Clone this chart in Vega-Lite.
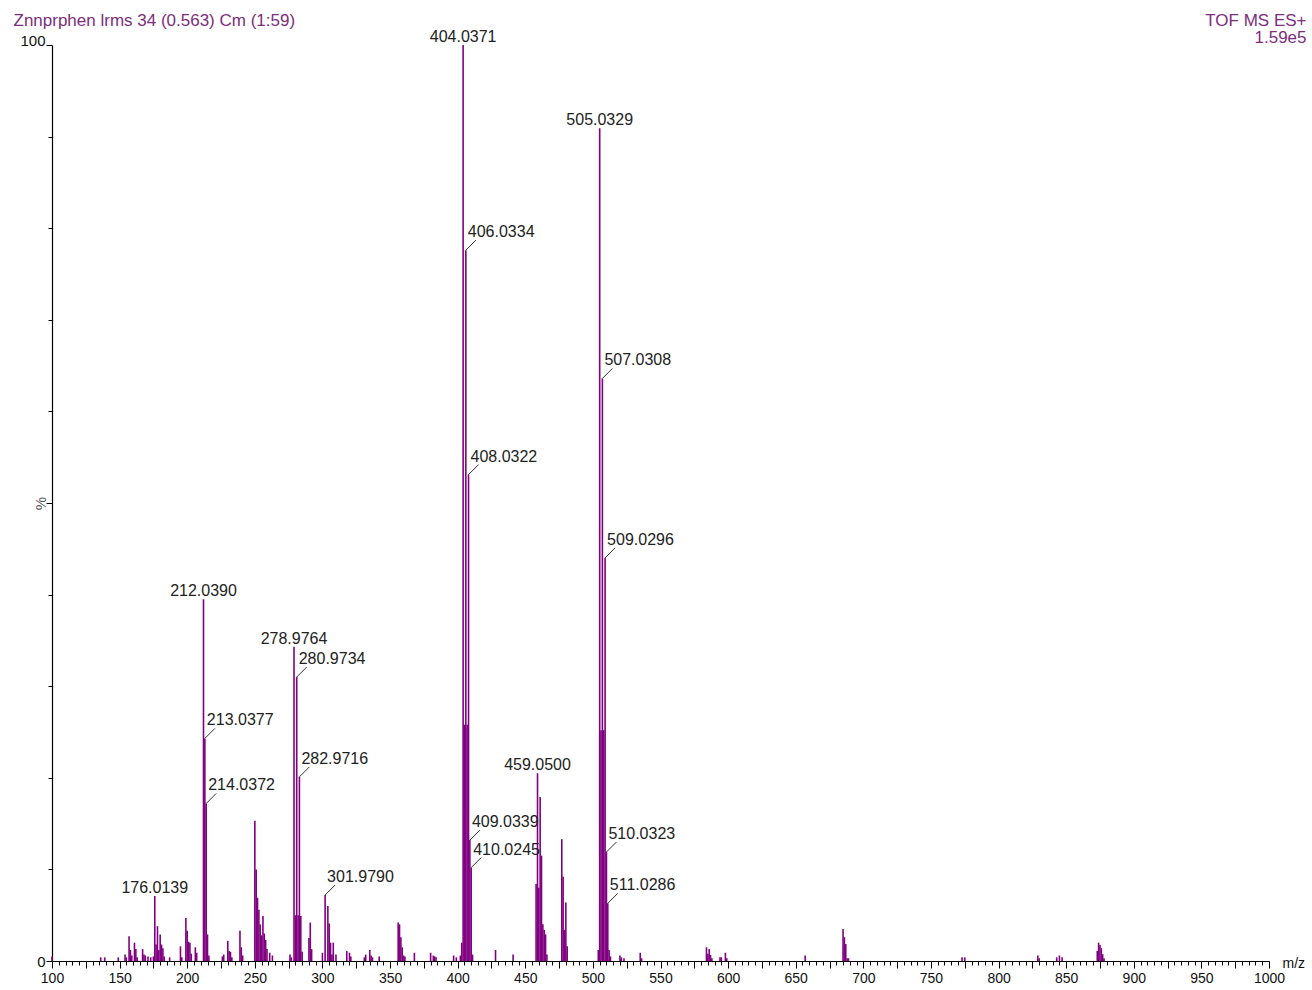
{
  "$schema": "https://vega.github.io/schema/vega-lite/v6.json",
  "width": 1217,
  "height": 916,
  "autosize": {"type": "none"},
  "padding": {"left": 52, "top": 45, "right": 43, "bottom": 29},
  "background": "white",
  "config": {"view": {"stroke": null}, "font": "Liberation Sans"},
  "datasets": {
    "peaks": [
      {"mz": 100, "pct": 0.5}, {"mz": 136, "pct": 0.4}, {"mz": 139, "pct": 0.4}, {"mz": 149, "pct": 0.4},
      {"mz": 154, "pct": 0.7}, {"mz": 155, "pct": 0.4}, {"mz": 157, "pct": 2.7}, {"mz": 158, "pct": 1.2},
      {"mz": 159, "pct": 0.6}, {"mz": 161, "pct": 2.0}, {"mz": 162, "pct": 1.3}, {"mz": 163, "pct": 0.4},
      {"mz": 167, "pct": 1.3}, {"mz": 168, "pct": 0.7}, {"mz": 169, "pct": 0.6}, {"mz": 171, "pct": 0.5},
      {"mz": 173, "pct": 0.4}, {"mz": 175, "pct": 0.5},
      {"mz": 176.0139, "pct": 7.1, "label": "176.0139", "kind": "apex"},
      {"mz": 177, "pct": 1.8}, {"mz": 178, "pct": 3.8}, {"mz": 179, "pct": 1.2}, {"mz": 180, "pct": 2.9},
      {"mz": 181, "pct": 1.8}, {"mz": 182, "pct": 1.4}, {"mz": 183, "pct": 0.5}, {"mz": 187, "pct": 0.4},
      {"mz": 195, "pct": 1.6}, {"mz": 196, "pct": 0.4}, {"mz": 199, "pct": 4.7}, {"mz": 200, "pct": 3.3},
      {"mz": 201, "pct": 2.1}, {"mz": 202, "pct": 2.0}, {"mz": 203, "pct": 0.8}, {"mz": 206, "pct": 1.5},
      {"mz": 207, "pct": 0.9},
      {"mz": 212.039, "pct": 39.5, "label": "212.0390", "kind": "apex"},
      {"mz": 213.0377, "pct": 24.3, "label": "213.0377", "kind": "side"},
      {"mz": 214.0372, "pct": 17.2, "label": "214.0372", "kind": "side"},
      {"mz": 215, "pct": 2.9}, {"mz": 216, "pct": 0.6}, {"mz": 226, "pct": 0.5}, {"mz": 227, "pct": 0.7},
      {"mz": 230, "pct": 2.2}, {"mz": 231, "pct": 1.1}, {"mz": 232, "pct": 1.0}, {"mz": 233, "pct": 0.4},
      {"mz": 239, "pct": 3.3}, {"mz": 240, "pct": 1.5}, {"mz": 241, "pct": 0.6},
      {"mz": 250, "pct": 15.3}, {"mz": 251, "pct": 10.0}, {"mz": 252, "pct": 6.9}, {"mz": 253, "pct": 5.6},
      {"mz": 254, "pct": 4.0}, {"mz": 255, "pct": 2.8}, {"mz": 256, "pct": 4.9}, {"mz": 257, "pct": 3.0},
      {"mz": 258, "pct": 2.3}, {"mz": 259, "pct": 1.3}, {"mz": 261, "pct": 0.9}, {"mz": 263, "pct": 0.6},
      {"mz": 276, "pct": 0.7}, {"mz": 277, "pct": 0.4},
      {"mz": 278.9764, "pct": 34.3, "label": "278.9764", "kind": "apex"},
      {"mz": 280, "pct": 5.0},
      {"mz": 280.9734, "pct": 31.0, "label": "280.9734", "kind": "side"},
      {"mz": 282, "pct": 5.0},
      {"mz": 282.9716, "pct": 20.1, "label": "282.9716", "kind": "side"},
      {"mz": 284, "pct": 4.9}, {"mz": 285, "pct": 1.0}, {"mz": 290, "pct": 2.5}, {"mz": 291, "pct": 4.2},
      {"mz": 292, "pct": 1.3}, {"mz": 300, "pct": 0.9},
      {"mz": 301.979, "pct": 7.2, "label": "301.9790", "kind": "side"},
      {"mz": 304, "pct": 6.0}, {"mz": 305, "pct": 4.1}, {"mz": 306, "pct": 2.0}, {"mz": 307, "pct": 0.7},
      {"mz": 308, "pct": 2.0}, {"mz": 310, "pct": 0.7}, {"mz": 318, "pct": 1.1}, {"mz": 320, "pct": 0.9},
      {"mz": 321, "pct": 0.5}, {"mz": 331, "pct": 0.4}, {"mz": 332, "pct": 0.7}, {"mz": 335, "pct": 1.2},
      {"mz": 336, "pct": 0.6}, {"mz": 337, "pct": 0.4}, {"mz": 342, "pct": 0.5},
      {"mz": 356, "pct": 4.2}, {"mz": 357, "pct": 4.0}, {"mz": 358, "pct": 2.6}, {"mz": 359, "pct": 1.5},
      {"mz": 360, "pct": 0.6}, {"mz": 361, "pct": 0.5}, {"mz": 368, "pct": 0.9}, {"mz": 380, "pct": 0.9},
      {"mz": 382, "pct": 0.6}, {"mz": 383, "pct": 0.5}, {"mz": 384, "pct": 0.4}, {"mz": 397, "pct": 0.6},
      {"mz": 399, "pct": 0.4}, {"mz": 402, "pct": 0.6}, {"mz": 403, "pct": 2.0},
      {"mz": 404.0371, "pct": 100, "label": "404.0371", "kind": "apex"},
      {"mz": 405, "pct": 25.8},
      {"mz": 406.0334, "pct": 77.6, "label": "406.0334", "kind": "side"},
      {"mz": 407, "pct": 25.8},
      {"mz": 408.0322, "pct": 53.1, "label": "408.0322", "kind": "side"},
      {"mz": 409.0339, "pct": 13.2, "label": "409.0339", "kind": "side"},
      {"mz": 410.0245, "pct": 10.2, "label": "410.0245", "kind": "side"},
      {"mz": 411, "pct": 0.7}, {"mz": 428, "pct": 1.2}, {"mz": 441, "pct": 0.7}, {"mz": 458, "pct": 8.4},
      {"mz": 459.05, "pct": 20.5, "label": "459.0500", "kind": "apex"},
      {"mz": 460, "pct": 8.0}, {"mz": 461, "pct": 17.9}, {"mz": 462, "pct": 11.5}, {"mz": 463, "pct": 4.0},
      {"mz": 464, "pct": 3.4}, {"mz": 465, "pct": 2.9}, {"mz": 466, "pct": 0.7},
      {"mz": 477, "pct": 13.3}, {"mz": 478, "pct": 9.2}, {"mz": 479, "pct": 3.4}, {"mz": 480, "pct": 6.4},
      {"mz": 481, "pct": 1.6}, {"mz": 504, "pct": 1.2},
      {"mz": 505.0329, "pct": 90.9, "label": "505.0329", "kind": "apex"},
      {"mz": 506, "pct": 25.2},
      {"mz": 507.0308, "pct": 63.6, "label": "507.0308", "kind": "side"},
      {"mz": 508, "pct": 25.2},
      {"mz": 509.0296, "pct": 44.0, "label": "509.0296", "kind": "side"},
      {"mz": 510.0323, "pct": 11.9, "label": "510.0323", "kind": "side"},
      {"mz": 511.0286, "pct": 6.3, "label": "511.0286", "kind": "side"},
      {"mz": 512, "pct": 1.2}, {"mz": 513, "pct": 0.5}, {"mz": 520, "pct": 0.6}, {"mz": 521, "pct": 0.4},
      {"mz": 523, "pct": 0.3}, {"mz": 535, "pct": 0.9}, {"mz": 536, "pct": 0.3},
      {"mz": 584, "pct": 1.5}, {"mz": 585, "pct": 0.8}, {"mz": 586, "pct": 1.3}, {"mz": 587, "pct": 0.65},
      {"mz": 588, "pct": 0.3}, {"mz": 594, "pct": 0.4}, {"mz": 595, "pct": 0.4}, {"mz": 598, "pct": 0.9},
      {"mz": 599, "pct": 0.3}, {"mz": 657, "pct": 0.6},
      {"mz": 685, "pct": 3.5}, {"mz": 686, "pct": 2.6}, {"mz": 687, "pct": 1.85}, {"mz": 688, "pct": 0.3},
      {"mz": 689, "pct": 0.3}, {"mz": 773, "pct": 0.4}, {"mz": 775, "pct": 0.4}, {"mz": 829, "pct": 0.6},
      {"mz": 830, "pct": 0.3}, {"mz": 843, "pct": 0.4}, {"mz": 845, "pct": 0.6}, {"mz": 847, "pct": 0.4},
      {"mz": 873, "pct": 1.1}, {"mz": 874, "pct": 2.0}, {"mz": 875, "pct": 1.75}, {"mz": 876, "pct": 1.4},
      {"mz": 877, "pct": 0.75}, {"mz": 878, "pct": 0.3}
    ]
  },
  "resolve": {"axis": {"x": "independent", "y": "independent"}},
  "layer": [
    {
      "data": {"name": "peaks"},
      "mark": {"type": "rule", "color": "#800080", "strokeWidth": 1.6},
      "encoding": {
        "x": {
          "field": "mz", "type": "quantitative",
          "scale": {"domain": [100, 1000], "nice": false, "zero": false},
          "axis": {
            "orient": "bottom",
            "values": [100,105,110,115,120,125,130,135,140,145,150,155,160,165,170,175,180,185,190,195,
                       200,205,210,215,220,225,230,235,240,245,250,255,260,265,270,275,280,285,290,295,
                       300,305,310,315,320,325,330,335,340,345,350,355,360,365,370,375,380,385,390,395,
                       400,405,410,415,420,425,430,435,440,445,450,455,460,465,470,475,480,485,490,495,
                       500,505,510,515,520,525,530,535,540,545,550,555,560,565,570,575,580,585,590,595,
                       600,605,610,615,620,625,630,635,640,645,650,655,660,665,670,675,680,685,690,695,
                       700,705,710,715,720,725,730,735,740,745,750,755,760,765,770,775,780,785,790,795,
                       800,805,810,815,820,825,830,835,840,845,850,855,860,865,870,875,880,885,890,895,
                       900,905,910,915,920,925,930,935,940,945,950,955,960,965,970,975,980,985,990,995,1000],
            "format": "d",
            "labelExpr": "datum.value % 50 === 0 ? datum.label : ''",
            "labelOverlap": false,
            "labelFlush": false,
            "labelFontSize": 14,
            "labelColor": "#111111",
            "labelPadding": 3,
            "tickSize": {"condition": {"test": "datum.value % 25 === 0", "value": 7}, "value": 4},
            "tickColor": "#000000",
            "tickWidth": 1,
            "domainColor": "#000000",
            "domainWidth": 1.2,
            "grid": false,
            "title": "m/z",
            "titleX": 1230,
            "titleY": 2,
            "titleAlign": "left",
            "titleBaseline": "middle",
            "titleAngle": 0,
            "titleFontSize": 14,
            "titleFontWeight": "normal",
            "titleColor": "#111111"
          }
        },
        "y": {
          "field": "pct", "type": "quantitative",
          "scale": {"domain": [0, 100], "nice": false},
          "axis": {
            "orient": "left",
            "values": [0,10,20,30,40,50,60,70,80,90,100],
            "labelExpr": "datum.value === 0 || datum.value === 100 ? datum.label : ''",
            "labelOverlap": false,
            "labelFlush": false,
            "labelFontSize": 15,
            "labelColor": "#111111",
            "labelPadding": 1,
            "labelBaseline": {"condition": {"test": "datum.value === 100", "value": "alphabetic"}, "value": "middle"},
            "tickSize": {"condition": {"test": "datum.value % 50 === 0", "value": 6}, "value": 4},
            "tickColor": "#000000",
            "domainColor": "#000000",
            "domainWidth": 1.2,
            "grid": false,
            "title": "%",
            "titleAngle": -90,
            "titleX": -12,
            "titleY": 458,
            "titleAlign": "center",
            "titleBaseline": "middle",
            "titleFontSize": 15,
            "titleFontWeight": "normal",
            "titleColor": "#555555"
          }
        },
        "y2": {"datum": 0}
      }
    },
    {
      "data": {"name": "peaks"},
      "transform": [{"filter": "datum.kind === 'side'"}],
      "mark": {"type": "rule", "color": "#333333", "strokeWidth": 1, "x2Offset": 10, "y2Offset": -10},
      "encoding": {
        "x": {"field": "mz", "type": "quantitative", "axis": null},
        "x2": {"field": "mz"},
        "y": {"field": "pct", "type": "quantitative", "axis": null},
        "y2": {"field": "pct"}
      }
    },
    {
      "data": {"name": "peaks"},
      "transform": [{"filter": "datum.kind === 'side'"}],
      "mark": {"type": "text", "align": "left", "baseline": "alphabetic", "dx": 2, "dy": -13, "fontSize": 16, "color": "#222222"},
      "encoding": {
        "x": {"field": "mz", "type": "quantitative", "axis": null},
        "y": {
          "field": "pct", "type": "quantitative",
          "axis": {
            "orient": "right",
            "domain": false, "ticks": false, "labels": false, "grid": false,
            "title": ["TOF MS ES+", "1.59e5"],
            "titleAngle": 0,
            "titleAlign": "right",
            "titleBaseline": "alphabetic",
            "titleX": 37,
            "titleY": -20,
            "titleLineHeight": 17,
            "titleFontSize": 17,
            "titleFontWeight": "normal",
            "titleColor": "#7d2d7d"
          }
        },
        "text": {"field": "label"}
      }
    },
    {
      "data": {"name": "peaks"},
      "transform": [{"filter": "datum.kind === 'apex'"}],
      "mark": {"type": "text", "align": "center", "baseline": "alphabetic", "dy": -3, "fontSize": 16, "color": "#222222"},
      "encoding": {
        "x": {
          "field": "mz", "type": "quantitative",
          "axis": {
            "orient": "top",
            "domain": false, "ticks": false, "labels": false, "grid": false,
            "title": "Znnprphen lrms 34 (0.563) Cm (1:59)",
            "titleAngle": 0,
            "titleAlign": "left",
            "titleBaseline": "alphabetic",
            "titleX": -39,
            "titleY": -20,
            "titleFontSize": 17,
            "titleFontWeight": "normal",
            "titleColor": "#7d2d7d"
          }
        },
        "y": {"field": "pct", "type": "quantitative", "axis": null},
        "text": {"field": "label"}
      }
    }
  ]
}
